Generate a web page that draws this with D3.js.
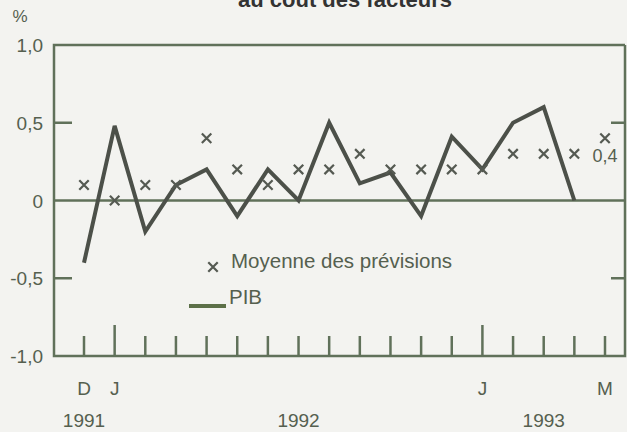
<html>
<head>
<meta charset="utf-8">
<style>
  body { margin: 0; background: #f3f3f0; }
  svg { display: block; font-family: "Liberation Sans", Arial, sans-serif; }
</style>
</head>
<body>
<svg width="627" height="432" class="chart"></svg>
<script src="https://cdn.jsdelivr.net/npm/d3@7"></script>
<script>
    // months from Dec 1991 to May 1993
    months = ["D","J","F","M","A","M","J","J","A","S","O","N","D","J","F","M","A","M"]
    monthLabels = ["D","J","","","","","","","","","","","","J","","","","M"]
    // PIB (growth, %), no value for last month
    pib = [-0.4, 0.48, -0.2, 0.1, 0.2, -0.1, 0.2, 0.0, 0.5, 0.11, 0.18, -0.1, 0.41, 0.2, 0.5, 0.6, 0.0]
    // average of forecasts
    forecasts = [0.1, 0.0, 0.1, 0.1, 0.4, 0.2, 0.1, 0.2, 0.2, 0.3, 0.2, 0.2, 0.2, 0.2, 0.3, 0.3, 0.3, 0.4]
    years = ["1991", "1992", "1993"]
    yearAt = [0, 7, 15]
    yTicks = [1, 0.5, 0, -0.5, -1]
    lastLabel = "0,4"

    var frameColor = "#60715a", lineColor = "#4c5049", textColor = "#55604f"
    var svg = d3.select(".chart")
    var left = 54, right = 625

    var x = d3.scaleLinear().domain([0, months.length - 1]).range([84, 605])
    var y = d3.scaleLinear().domain([-1, 1]).range([356, 45])
    var fmt = function(d){ return d3.format(".1f")(d).replace(".", ",").replace("0,0", "0").replace("−", "-") }

    // title, cut at top like the scan
    svg.append("text").attr("x", 345).attr("y", 7).attr("text-anchor", "middle")
        .attr("font-size", 22).attr("font-weight", "bold").attr("fill", "#333")
        .text("au coût des facteurs")

    svg.append("text").attr("x", 20).attr("y", 22).attr("text-anchor", "middle")
        .attr("font-size", 17).attr("fill", textColor).text("%")

    // frame
    var g = svg.append("g").attr("stroke", frameColor).attr("stroke-width", 2.5).attr("fill", "none")
    g.append("path").attr("d", "M" + right + "," + y(1) + "H" + left + "V" + y(-1) + "H" + right + "V" + y(1))
    g.append("line").attr("x1", left).attr("x2", right).attr("y1", y(0)).attr("y2", y(0))

    // y ticks inside left and right
    g.selectAll(".lt").data([0.5, -0.5]).enter().append("line")
        .attr("x1", left).attr("x2", left + 18).attr("y1", y).attr("y2", y)
    g.selectAll(".rt").data([0.5, -0.5]).enter().append("line")
        .attr("x1", right - 14).attr("x2", right).attr("y1", y).attr("y2", y)

    svg.selectAll(".ylab").data(yTicks).enter().append("text")
        .attr("x", 43).attr("y", function(d){ return y(d) + 7 }).attr("text-anchor", "end")
        .attr("font-size", 19).attr("fill", textColor).text(fmt)

    // month ticks, January taller
    g.selectAll(".mt").data(months).enter().append("line")
        .attr("x1", function(d, i){ return x(i) }).attr("x2", function(d, i){ return x(i) })
        .attr("y1", y(-1)).attr("y2", function(d, i){ return monthLabels[i] == "J" ? y(-1) - 31 : y(-1) - 20 })

    svg.selectAll(".ml").data(monthLabels).enter().append("text")
        .attr("x", function(d, i){ return x(i) }).attr("y", 395).attr("text-anchor", "middle")
        .attr("font-size", 19).attr("fill", textColor).text(function(d){ return d })

    svg.selectAll(".yr").data(years).enter().append("text")
        .attr("x", function(d, i){ return x(yearAt[i]) }).attr("y", 427).attr("text-anchor", "middle")
        .attr("font-size", 19).attr("fill", textColor).text(function(d){ return d })

    // PIB line
    var line = d3.line().x(function(d, i){ return x(i) }).y(function(d){ return y(d) })
    svg.append("path").datum(pib).attr("d", line).attr("fill", "none")
        .attr("stroke", lineColor).attr("stroke-width", 4).attr("stroke-linejoin", "miter")

    // forecast crosses
    var cross = d3.symbol().type(d3.symbolTimes).size(60)
    svg.selectAll(".fc").data(forecasts).enter().append("path")
        .attr("d", cross)
        .attr("transform", function(d, i){ return "translate(" + x(i) + "," + y(d) + ")" })
        .attr("fill", "none").attr("stroke", "#555a52").attr("stroke-width", 2.2)

    svg.append("text").attr("x", x(forecasts.length - 1)).attr("y", y(forecasts[forecasts.length - 1]) + 24)
        .attr("text-anchor", "middle").attr("font-size", 18).attr("fill", textColor).text(lastLabel)

    // legend
    svg.append("path").attr("d", cross).attr("transform", "translate(213,267)")
        .attr("fill", "none").attr("stroke", "#555a52").attr("stroke-width", 2.2)
    svg.append("text").attr("x", 231).attr("y", 268).attr("font-size", 20.5).attr("fill", textColor)
        .text("Moyenne des prévisions")
    svg.append("line").attr("x1", 189).attr("x2", 226).attr("y1", 306).attr("y2", 306)
        .attr("stroke", "#5c7048").attr("stroke-width", 4)
    svg.append("text").attr("x", 229).attr("y", 304).attr("font-size", 20.5).attr("fill", textColor)
        .text("PIB")
</script>
</body>
</html>
